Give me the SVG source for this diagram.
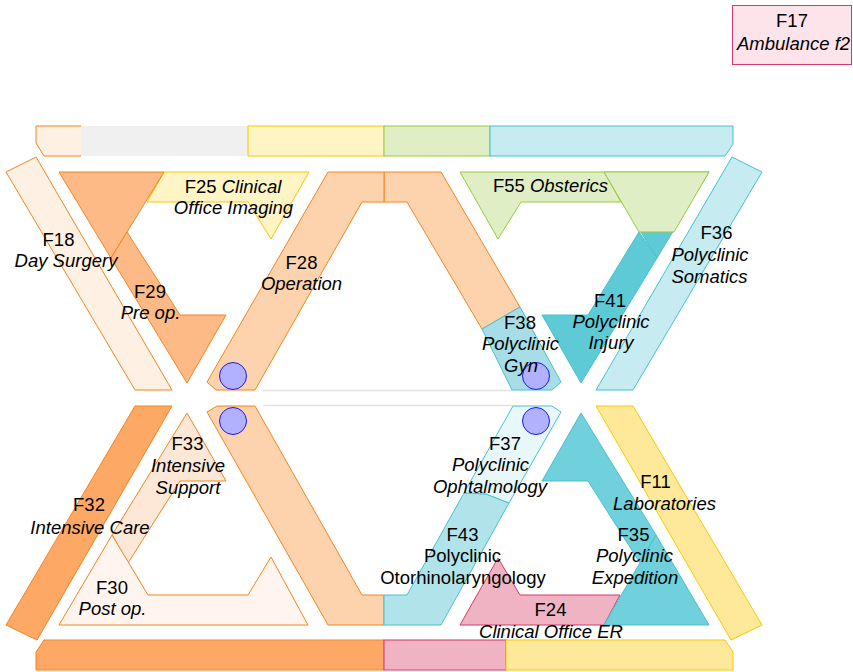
<svg xmlns="http://www.w3.org/2000/svg" width="853" height="672" viewBox="0 0 853 672">
<defs>
<style>
.o{stroke:#f5841f;stroke-width:1;stroke-linejoin:miter}
.y{stroke:#f7c800;stroke-width:1}
.g{stroke:#9bcb3c;stroke-width:1}
.c{stroke:#46c1cf;stroke-width:1}
.p{stroke:#d5386b;stroke-width:1}
.ns{stroke:none}
.dot{fill:#b1b1ff;stroke:#1a1af0;stroke-width:1}
.conn{stroke:#e2e2e2;stroke-width:1.5;fill:none}
.t{font-family:"Liberation Sans",Arial,Helvetica,sans-serif;font-size:18.5px;fill:#000;text-anchor:middle}
.i{font-style:italic}
</style>
</defs>
<rect width="853" height="672" fill="#ffffff"/>

<!-- top bar -->
<g id="top-bar-1"><path d="M81,126 H36 V143 L44,156 H81 Z" fill="#fff0e4" class="ns"/><path d="M81,126 H36 V143 L44,156 H81" fill="none" class="o"/></g>
<g id="top-bar-2"><rect x="81" y="126" width="167" height="30" fill="#f0f0f0"/></g>
<g id="top-bar-3"><rect x="248" y="126" width="136" height="30" fill="#fff4c4" class="y"/></g>
<g id="top-bar-4"><rect x="384" y="126" width="106" height="30" fill="#dfeec5" class="g"/></g>
<g id="top-bar-5"><path d="M490,126 H733 V144 L725,156 H490 Z" fill="#c6ebf0" class="c"/></g>

<!-- bottom bar -->
<g id="bottom-bar-1"><path d="M44,640 H384 V670 H36 V652 Z" fill="#fda865" class="o"/></g>
<g id="bottom-bar-2"><rect x="384" y="640" width="122" height="30" fill="#efb3c3" class="p"/></g>
<g id="bottom-bar-3"><path d="M506,640 H725 L733,652 V670 H506 Z" fill="#fee99b" class="y"/></g>

<g id="connectors">
<line class="conn" x1="263" y1="390.5" x2="512" y2="390.5"/>
<line class="conn" x1="263" y1="405.5" x2="513" y2="405.5"/>
</g>

<!-- upper half -->
<g id="F25"><polygon points="164,172 309,172 271,239 248,202 147,202" fill="#fff4c4" class="y"/></g>
<g id="F29">
<polygon points="59,172 164,172 111,258" fill="#fdba86" class="o"/>
<polygon points="127,232 180,315 226,315 187,383 111,258" fill="#fdba86" class="o"/>
</g>
<g id="F18"><polygon points="6,172 36,157 172,390 135,390" fill="#fff0e4" class="o"/></g>
<g id="F28-right"><polygon points="384,172 441,172 520,307 482,329 407,202 384,202" fill="#fdd3ae" class="o"/></g>
<g id="F28"><polygon points="207,382 216,390 255,390 362,202 384,202 384,172 328,172" fill="#fdd3ae" class="o"/></g>
<g id="F38"><polygon points="482,329 520,307 561,382 552,390 512,390" fill="#a7dde6" class="c"/></g>
<g id="F36"><polygon points="732,157 762,172 633,390 596,390" fill="#c6ebf0" class="c"/></g>
<g id="F41">
<polygon points="604,172 709,172 657,258" fill="#5dcad6" class="c"/>
<polygon points="639,232 588,315 542,315 581,383 657,258" fill="#5dcad6" class="c"/>
</g>
<g id="F55">
<polygon points="460,172 604,172 621,202 521,202 498,239" fill="#dfeec5" class="g"/>
<polygon points="604,172 709,172 674,232 639,232" fill="#dfeec5" class="g"/>
</g>
<g id="circle-1"><circle cx="233" cy="376" r="13.5" class="dot"/></g>
<g id="circle-2"><circle cx="536" cy="376" r="13.5" class="dot"/></g>

<!-- lower half -->
<g id="F33"><polygon points="187,413 226,481 180,481 128,563 112,535" fill="#fde7d7" class="o"/></g>
<g id="F30"><polygon points="112,535 148,595 248,595 271,557 308,625 59,625" fill="#fff5ee" class="o"/></g>
<g id="F32"><polygon points="135,406 172,406 37,640 6,625" fill="#fda865" class="o"/></g>
<g id="F28-lower"><polygon points="207,412 217,406 255,406 362,595 384,595 384,625 328,625" fill="#fdd3ae" class="o"/></g>
<g id="F24"><polygon points="460,625 498,558 520,595 620,595 604,625" fill="#efb3c3" class="p"/></g>
<g id="F43"><polygon points="384,595 407,595 464,493 486,494 509,503 441,625 384,625" fill="#b1e4ea" class="c"/></g>
<g id="F37"><polygon points="513,406 552,406 561,412 509,503 486,494 464,493" fill="#e8f7f9" class="c"/></g>
<g id="F35">
<polygon points="581,413 542,481 588,481 640,563 656,535" fill="#70d0db" class="c"/>
<polygon points="656,535 709,625 604,625" fill="#70d0db" class="c"/>
</g>
<g id="F11"><polygon points="596,406 633,406 762,625 731,640" fill="#fee99b" class="y"/></g>
<g id="circle-3"><circle cx="233" cy="421" r="13.5" class="dot"/></g>
<g id="circle-4"><circle cx="536" cy="421" r="13.5" class="dot"/></g>

<g id="F17"><rect x="732.5" y="5.5" width="119" height="59" fill="#fde4eb" class="p"/></g>

<!-- labels -->
<g id="labels">
<g id="F17-label"><text class="t" x="792" y="27">F17</text><text class="t i" x="793.5" y="50">Ambulance f2</text></g>
<g id="F25-label"><text class="t" x="233" y="193">F25 <tspan class="i">Clinical</tspan></text><text class="t i" x="233.5" y="214">Office Imaging</text></g>
<g id="F18-label"><text class="t" x="58.5" y="246">F18</text><text class="t i" x="66" y="267">Day Surgery</text></g>
<g id="F29-label"><text class="t" x="150" y="298">F29</text><text class="t i" x="150.5" y="319">Pre op.</text></g>
<g id="F28-label"><text class="t" x="301.5" y="269">F28</text><text class="t i" x="301.5" y="290">Operation</text></g>
<g id="F55-label"><text class="t" x="550.5" y="192">F55 <tspan class="i">Obsterics</tspan></text></g>
<g id="F36-label"><text class="t" x="716.5" y="239">F36</text><text class="t i" x="710" y="261">Polyclinic</text><text class="t i" x="709.5" y="283">Somatics</text></g>
<g id="F41-label"><text class="t" x="610" y="307">F41</text><text class="t i" x="611" y="328">Polyclinic</text><text class="t i" x="611" y="349">Injury</text></g>
<g id="F38-label"><text class="t" x="520" y="329">F38</text><text class="t i" x="520.5" y="350">Polyclinic</text><text class="t i" x="521" y="372">Gyn</text></g>
<g id="F33-label"><text class="t" x="187.5" y="450">F33</text><text class="t i" x="188" y="472">Intensive</text><text class="t i" x="188" y="494">Support</text></g>
<g id="F32-label"><text class="t" x="89" y="511">F32</text><text class="t i" x="90" y="534">Intensive Care</text></g>
<g id="F30-label"><text class="t" x="112" y="594">F30</text><text class="t i" x="112.5" y="615">Post op.</text></g>
<g id="F37-label"><text class="t" x="505" y="450">F37</text><text class="t i" x="490.5" y="471">Polyclinic</text><text class="t i" x="490" y="493">Ophtalmology</text></g>
<g id="F43-label"><text class="t" x="462.5" y="541">F43</text><text class="t" x="462.5" y="562">Polyclinic</text><text class="t" x="463" y="584">Otorhinolaryngology</text></g>
<g id="F11-label"><text class="t" x="655.5" y="488">F11</text><text class="t i" x="664.5" y="510">Laboratories</text></g>
<g id="F35-label"><text class="t" x="633.5" y="541">F35</text><text class="t i" x="634.5" y="562">Polyclinic</text><text class="t i" x="635" y="584">Expedition</text></g>
<g id="F24-label"><text class="t" x="550.5" y="616">F24</text><text class="t i" x="551" y="638">Clinical Office ER</text></g>
</g>
</svg>
